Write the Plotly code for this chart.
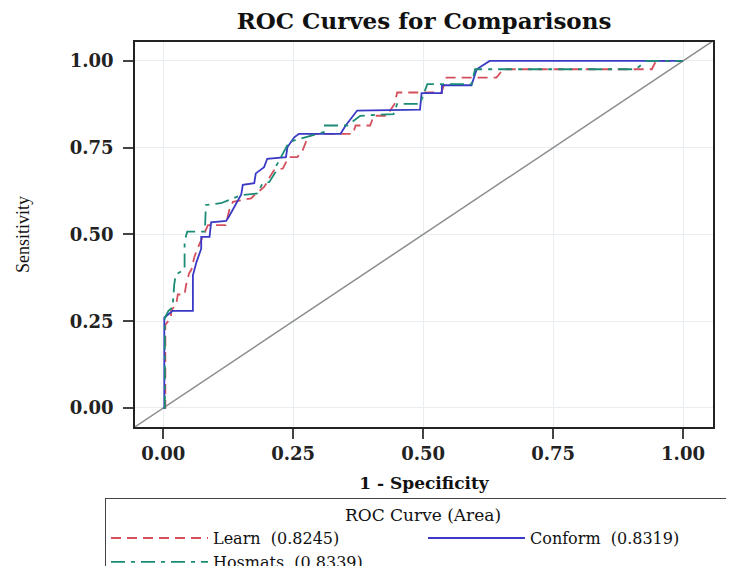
import plotly.graph_objects as go

# ---- data ----
learn_fpr = [0, 0.004, 0.004, 0.015, 0.015, 0.025, 0.028, 0.041, 0.044, 0.050,
             0.054, 0.060, 0.066, 0.076, 0.086, 0.120, 0.124, 0.127, 0.134, 0.169,
             0.175, 0.194, 0.200, 0.205, 0.213, 0.230, 0.238, 0.242, 0.258, 0.268,
             0.277, 0.287, 0.365, 0.370, 0.398, 0.405, 0.430, 0.445, 0.450, 0.494,
             0.535, 0.545, 0.641, 0.654, 0.940, 0.948, 1.0]
learn_tpr = [0, 0, 0.24, 0.26, 0.28, 0.30, 0.327, 0.327, 0.355, 0.389,
             0.398, 0.436, 0.460, 0.494, 0.527, 0.527, 0.551, 0.570, 0.594, 0.604,
             0.613, 0.637, 0.651, 0.666, 0.685, 0.690, 0.713, 0.723, 0.723, 0.742,
             0.776, 0.790, 0.790, 0.814, 0.814, 0.842, 0.842, 0.876, 0.909, 0.909,
             0.909, 0.952, 0.952, 0.976, 0.976, 1.0, 1.0]

conform_fpr = [0, 0.002, 0.002, 0.018, 0.057, 0.057, 0.064, 0.067, 0.073, 0.073,
               0.089, 0.092, 0.121, 0.127, 0.137, 0.150, 0.153, 0.175, 0.178, 0.194,
               0.200, 0.236, 0.239, 0.245, 0.252, 0.261, 0.341, 0.351, 0.363, 0.373,
               0.494, 0.497, 0.536, 0.536, 0.593, 0.603, 0.628, 1.0]
conform_tpr = [0, 0, 0.26, 0.28, 0.28, 0.382, 0.421, 0.435, 0.459, 0.493,
               0.493, 0.535, 0.539, 0.553, 0.582, 0.615, 0.643, 0.648, 0.676, 0.694,
               0.718, 0.723, 0.752, 0.766, 0.780, 0.790, 0.790, 0.814, 0.837, 0.857,
               0.860, 0.907, 0.907, 0.930, 0.930, 0.976, 1.0, 1.0]

hosmats_fpr = [0, 0.003, 0.003, 0.010, 0.018, 0.021, 0.024, 0.041, 0.041, 0.046,
               0.080, 0.082, 0.111, 0.149, 0.181, 0.191, 0.204, 0.216, 0.216, 0.242,
               0.252, 0.309, 0.309, 0.354, 0.379, 0.443, 0.450, 0.494, 0.508, 0.593,
               0.600, 0.909, 0.929, 1.0]
hosmats_tpr = [0, 0, 0.26, 0.28, 0.29, 0.355, 0.384, 0.400, 0.479, 0.508,
               0.508, 0.585, 0.590, 0.613, 0.618, 0.647, 0.651, 0.680, 0.694, 0.766,
               0.771, 0.795, 0.814, 0.814, 0.842, 0.847, 0.876, 0.876, 0.933, 0.933,
               0.976, 0.976, 1.0, 1.0]

series_names = ["Learn\u00a0\u00a0(0.8245)", "Conform\u00a0\u00a0(0.8319)", "Hosmats\u00a0\u00a0(0.8339)"]
ref_line = [-0.1, 1.1]
tick_vals = [0, 0.25, 0.5, 0.75, 1.0]
tick_text = ["<b>0.00</b>", "<b>0.25</b>", "<b>0.50</b>", "<b>0.75</b>", "<b>1.00</b>"]

SERIF = "DejaVu Serif"

fig = go.Figure()
fig.add_trace(go.Scatter(x=ref_line, y=ref_line, mode="lines",
                         line=dict(color="#8c8c8c", width=1.5),
                         showlegend=False, hoverinfo="skip"))
fig.add_trace(go.Scatter(x=learn_fpr, y=learn_tpr, mode="lines", name=series_names[0],
                         line=dict(color="#d4505c", width=1.8, dash="10px,6px")))
fig.add_trace(go.Scatter(x=conform_fpr, y=conform_tpr, mode="lines", name=series_names[1],
                         line=dict(color="#3a3ac6", width=1.8)))
fig.add_trace(go.Scatter(x=hosmats_fpr, y=hosmats_tpr, mode="lines", name=series_names[2],
                         line=dict(color="#1a8c76", width=1.8, dash="14px,6px,4px,6px")))

axis_common = dict(
    showline=True, linecolor="#222222", linewidth=1.5, mirror=True,
    showgrid=True, gridcolor="#e8edf1", gridwidth=1,
    zeroline=False, ticks="outside", ticklen=10, tickwidth=1.5, tickcolor="#444444",
    tickvals=tick_vals, ticktext=tick_text,
    tickfont=dict(family=SERIF, size=18, color="#222222"),
)

# page body has an 8px margin, so the figure is sized/margined to land on the reference pixels
W, H = 726, 558
ML, MR, MT, MB = 127, 21, 34, 139
plot_h = H - MT - MB

fig.update_layout(
    width=W, height=H,
    margin=dict(l=ML, r=MR, t=MT, b=MB, autoexpand=False),
    paper_bgcolor="white", plot_bgcolor="white",
    title=dict(text="<b>ROC Curves for Comparisons</b>", x=0.5, xanchor="center",
               xref="paper", y=1 - 13 / H, yanchor="middle",
               font=dict(family=SERIF, size=23, color="#111111")),
    xaxis=dict(range=[-0.0544, 1.0577],
               title=dict(text="<b>1 - Specificity</b>", standoff=14,
                          font=dict(family=SERIF, size=17, color="#111111")),
               **axis_common),
    yaxis=dict(range=[-0.0549, 1.0546],
               title=dict(text="Sensitivity", standoff=36,
                          font=dict(family="Liberation Serif", size=18, color="#111111")),
               ticklabelstandoff=6,
               **axis_common),
    legend=dict(orientation="h", x=(97 - ML) / (W - ML - MR), xanchor="left",
                y=((H - MB) - 490) / plot_h, yanchor="top",
                bordercolor="#444444", borderwidth=1, bgcolor="white",
                entrywidth=205, entrywidthmode="pixels", itemwidth=97,
                font=dict(family=SERIF, size=16, color="#111111"),
                title=dict(text="ROC Curve (Area)", side="top center",
                           font=dict(family=SERIF, size=17, color="#111111")),
                traceorder="normal"),
)

fig.write_html("out.html")
